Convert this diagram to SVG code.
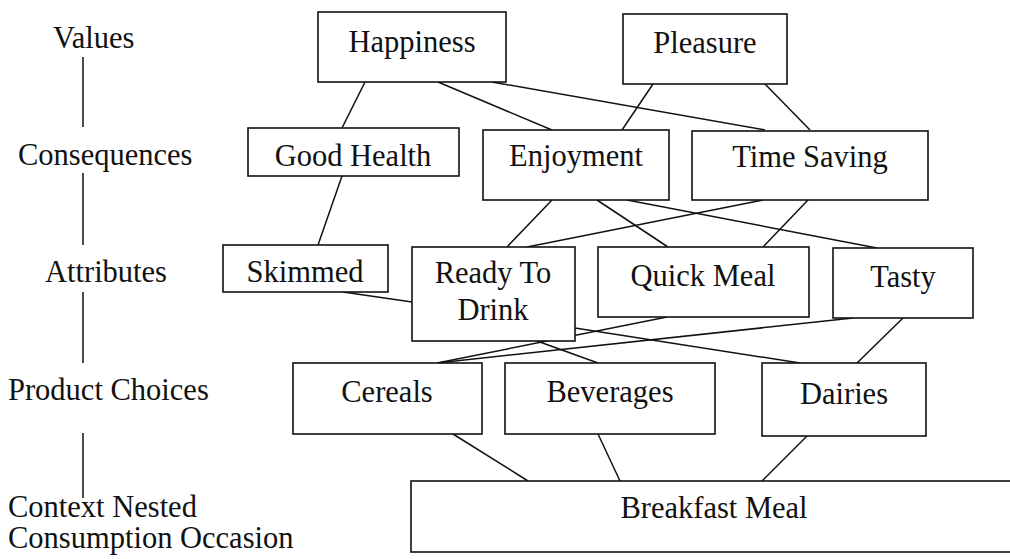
<svg xmlns="http://www.w3.org/2000/svg" width="1010" height="559" viewBox="0 0 1010 559">
  <style>
    .box { fill: #ffffff; stroke: #111111; stroke-width: 1.6; }
    .lbl { font-family: "Liberation Serif", "Times New Roman", serif; font-size: 30.5px; fill: #111111; }
    .mid { text-anchor: middle; }
    .link { stroke: #111111; stroke-width: 1.5; fill: none; }
  </style>

  <rect x="0" y="0" width="1010" height="559" fill="#ffffff"/>

  <!-- level labels on the left -->
  <g id="levels">
    <text class="lbl" x="53" y="48">Values</text>
    <text class="lbl" x="18" y="165">Consequences</text>
    <text class="lbl" x="45" y="282">Attributes</text>
    <text class="lbl" x="8" y="400">Product Choices</text>
    <text class="lbl" x="8" y="517">Context Nested</text>
    <text class="lbl" x="8" y="548">Consumption Occasion</text>
    <line class="link" x1="83" y1="57" x2="83" y2="127"/>
    <line class="link" x1="83" y1="173" x2="83" y2="245"/>
    <line class="link" x1="83" y1="292" x2="83" y2="363"/>
    <line class="link" x1="83" y1="433" x2="83" y2="498"/>
  </g>

  <!-- connectors -->
  <g id="connectors">
    <!-- values to consequences -->
    <line class="link" x1="365" y1="82" x2="342" y2="128"/>
    <line class="link" x1="438" y1="82" x2="552" y2="130"/>
    <line class="link" x1="492" y1="82" x2="765" y2="130"/>
    <line class="link" x1="653" y1="84" x2="622" y2="130"/>
    <line class="link" x1="765" y1="84" x2="810" y2="130"/>
    <!-- consequences to attributes -->
    <line class="link" x1="342" y1="176" x2="318" y2="245"/>
    <line class="link" x1="552" y1="200" x2="507" y2="247"/>
    <line class="link" x1="597" y1="200" x2="668" y2="247"/>
    <line class="link" x1="627" y1="200" x2="877" y2="248"/>
    <line class="link" x1="763" y1="200" x2="527" y2="247"/>
    <line class="link" x1="808" y1="200" x2="763" y2="247"/>
    <!-- attributes to product choices -->
    <line class="link" x1="343" y1="292" x2="412" y2="302"/>
    <line class="link" x1="537" y1="341" x2="598" y2="363"/>
    <line class="link" x1="575" y1="328" x2="800" y2="363"/>
    <line class="link" x1="667" y1="317" x2="437" y2="363"/>
    <line class="link" x1="853" y1="318" x2="437" y2="363"/>
    <line class="link" x1="903" y1="318" x2="857" y2="363"/>
    <!-- product choices to occasion -->
    <line class="link" x1="453" y1="434" x2="528" y2="481"/>
    <line class="link" x1="598" y1="434" x2="620" y2="481"/>
    <line class="link" x1="807" y1="436" x2="762" y2="481"/>
  </g>

  <!-- values -->
  <g id="happiness">
    <rect class="box" x="318" y="12" width="188" height="70"/>
    <text class="lbl mid" x="412" y="52">Happiness</text>
  </g>
  <g id="pleasure">
    <rect class="box" x="623" y="14" width="164" height="70"/>
    <text class="lbl mid" x="705" y="53">Pleasure</text>
  </g>

  <!-- consequences -->
  <g id="good-health">
    <rect class="box" x="248" y="128" width="211" height="48"/>
    <text class="lbl mid" x="353" y="166">Good Health</text>
  </g>
  <g id="enjoyment">
    <rect class="box" x="483" y="130" width="186" height="70"/>
    <text class="lbl mid" x="576" y="166">Enjoyment</text>
  </g>
  <g id="time-saving">
    <rect class="box" x="692" y="131" width="236" height="69"/>
    <text class="lbl mid" x="810" y="167">Time Saving</text>
  </g>

  <!-- attributes -->
  <g id="skimmed">
    <rect class="box" x="223" y="245" width="165" height="47"/>
    <text class="lbl mid" x="305" y="282">Skimmed</text>
  </g>
  <g id="ready-to-drink">
    <rect class="box" x="412" y="247" width="163" height="94"/>
    <text class="lbl mid" x="493" y="283">Ready To</text>
    <text class="lbl mid" x="493" y="320">Drink</text>
  </g>
  <g id="quick-meal">
    <rect class="box" x="598" y="247" width="211" height="70"/>
    <text class="lbl mid" x="703" y="286">Quick Meal</text>
  </g>
  <g id="tasty">
    <rect class="box" x="833" y="248" width="140" height="70"/>
    <text class="lbl mid" x="903" y="287">Tasty</text>
  </g>

  <!-- product choices -->
  <g id="cereals">
    <rect class="box" x="293" y="363" width="189" height="71"/>
    <text class="lbl mid" x="387" y="402">Cereals</text>
  </g>
  <g id="beverages">
    <rect class="box" x="505" y="363" width="210" height="71"/>
    <text class="lbl mid" x="610" y="402">Beverages</text>
  </g>
  <g id="dairies">
    <rect class="box" x="762" y="363" width="164" height="73"/>
    <text class="lbl mid" x="844" y="404">Dairies</text>
  </g>

  <!-- consumption occasion -->
  <g id="breakfast-meal">
    <rect class="box" x="411" y="481" width="610" height="71"/>
    <text class="lbl mid" x="714" y="518">Breakfast Meal</text>
  </g>
</svg>
